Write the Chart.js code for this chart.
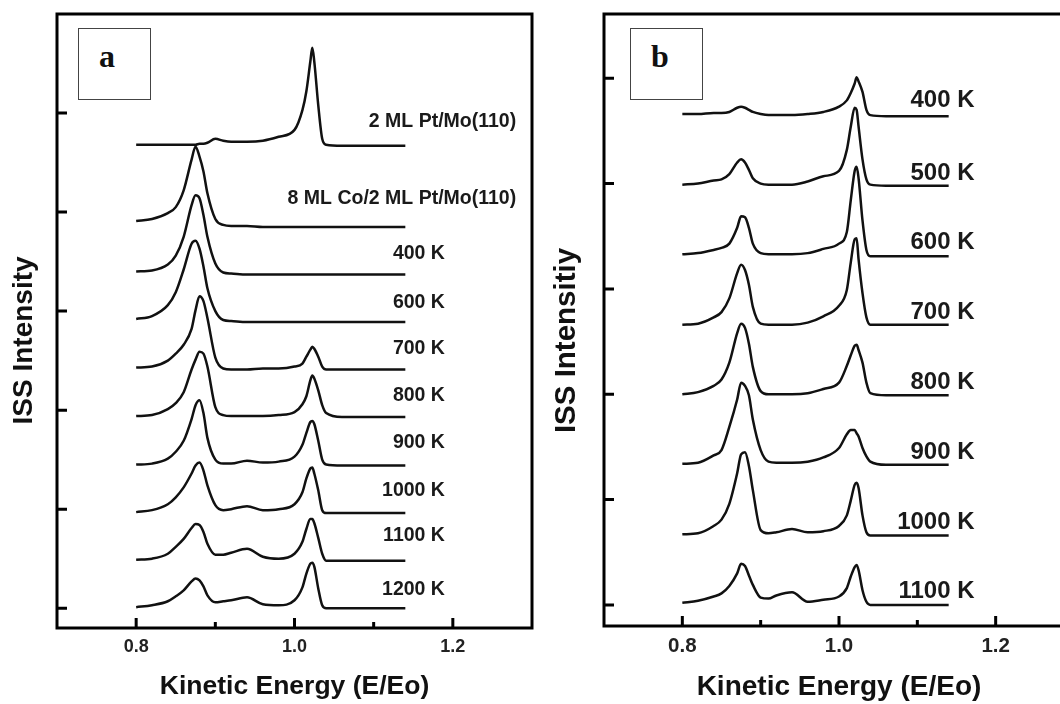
<!DOCTYPE html>
<html>
<head>
<meta charset="utf-8">
<title>ISS spectra</title>
<script src="https://cdn.jsdelivr.net/npm/chart.js@4.4.1/dist/chart.umd.min.js"></script>
<style>
  html, body { margin: 0; padding: 0; background: #fff; overflow: hidden; }
  #wrap { position: relative; width: 1060px; height: 704px; overflow: hidden; }
  canvas { position: absolute; top: 0; }
  #chartA { left: 0; }
  #chartB { left: 540px; }
  .tag { position: absolute; top: 28px; width: 73px; height: 72px; border: 1.5px solid #444;
         box-sizing: border-box; background: #fff; }
  .tag span { position: absolute; left: 20px; top: 9px; line-height: 32px; color: #111;
              font: bold 32px "Liberation Serif", "DejaVu Serif", serif; }
</style>
</head>
<body>
<div id="wrap">
  <canvas id="chartA" width="540" height="704"></canvas>
  <canvas id="chartB" width="540" height="704"></canvas>
  <div class="tag" style="left:78px"><span>a</span></div>
  <div class="tag" style="left:630px"><span>b</span></div>
</div>
<script>
// energie (E/Eo), grille commune a toutes les courbes
var energy = [0.80, 0.82, 0.84, 0.85, 0.86, 0.87, 0.875, 0.88, 0.885, 0.89, 0.90, 0.91, 0.92, 0.94,
              0.96, 0.98, 1.00, 1.01, 1.015, 1.02, 1.0225, 1.025, 1.03, 1.035, 1.04, 1.06, 1.14];

// panneau a : intensites au-dessus de la ligne de base de chaque spectre
var a_PtMo  = [0.01,0.01,0.01,0.01,0.01,0.01,0.01,0.02,0.02,0.03,0.07,0.05,0.04,0.04,0.05,0.09,0.16,0.36,0.55,0.85,0.99,0.85,0.41,0.07,0.01,0,0];
var a_CoPt  = [0.06,0.08,0.14,0.20,0.37,0.68,0.81,0.71,0.56,0.34,0.08,0.02,0.01,0.01,0,0,0,0,0,0,0,0,0,0,0,0,0];
var a_400K  = [0.03,0.04,0.10,0.19,0.38,0.70,0.80,0.77,0.60,0.38,0.11,0.02,0.01,0,0,0,0,0,0,0,0,0,0,0,0,0,0];
var a_600K  = [0.03,0.06,0.17,0.30,0.53,0.79,0.82,0.74,0.56,0.34,0.11,0.02,0.01,0,0,0,0,0,0,0,0,0,0,0,0,0,0];
var a_700K  = [0.02,0.03,0.09,0.16,0.25,0.41,0.60,0.74,0.69,0.52,0.12,0.01,0,0,0.01,0.01,0.03,0.06,0.13,0.20,0.23,0.21,0.13,0.03,0,0,0];
var a_800K  = [0.01,0.02,0.08,0.14,0.25,0.48,0.58,0.66,0.64,0.51,0.10,0.02,0.01,0.01,0.01,0.02,0.05,0.13,0.21,0.37,0.42,0.39,0.27,0.12,0.04,0,0];
var a_900K  = [0.01,0.02,0.07,0.14,0.25,0.47,0.61,0.66,0.53,0.28,0.06,0.02,0.02,0.05,0.03,0.04,0.09,0.21,0.33,0.44,0.45,0.42,0.25,0.06,0.01,0,0];
var a_1000K = [0.01,0.03,0.09,0.16,0.26,0.40,0.48,0.51,0.43,0.28,0.08,0.03,0.04,0.07,0.03,0.04,0.09,0.21,0.35,0.45,0.46,0.40,0.23,0.03,0,0,0];
var a_1100K = [0.01,0.02,0.07,0.14,0.22,0.33,0.37,0.36,0.29,0.17,0.06,0.06,0.08,0.12,0.04,0.02,0.07,0.19,0.32,0.42,0.42,0.38,0.23,0.07,0,0,0];
var a_1200K = [0.01,0.03,0.07,0.12,0.18,0.27,0.30,0.28,0.22,0.13,0.06,0.07,0.08,0.11,0.04,0.03,0.08,0.21,0.35,0.45,0.46,0.42,0.20,0.03,0,0,0];
var offsetsA = [4.67, 3.85, 3.37, 2.89, 2.41, 1.93, 1.44, 0.96, 0.48, 0];
var namesA   = ['2 ML Pt/Mo(110)', '8 ML Co/2 ML Pt/Mo(110)', '400 K', '600 K', '700 K',
                '800 K', '900 K', '1000 K', '1100 K', '1200 K'];
var labelXA  = [1.28, 1.28, 1.19, 1.19, 1.19, 1.19, 1.19, 1.19, 1.19, 1.19];
var labelYA  = [4.91, 4.14, 3.58, 3.09, 2.62, 2.15, 1.67, 1.19, 0.73, 0.19];

// panneau b
var b_400K  = [0.02,0.02,0.03,0.03,0.04,0.08,0.09,0.08,0.06,0.04,0.02,0.01,0.01,0.01,0.02,0.04,0.09,0.15,0.22,0.31,0.37,0.33,0.23,0.06,0.01,0,0];
var b_500K  = [0.01,0.02,0.05,0.06,0.11,0.22,0.25,0.22,0.15,0.07,0.02,0.01,0.01,0.01,0.04,0.09,0.14,0.34,0.56,0.74,0.72,0.56,0.25,0.06,0.01,0,0];
var b_600K  = [0.02,0.03,0.06,0.08,0.12,0.27,0.38,0.37,0.27,0.12,0.03,0.02,0.02,0.02,0.03,0.07,0.12,0.23,0.53,0.81,0.85,0.74,0.34,0.06,0,0,0];
var b_700K  = [0,0.01,0.07,0.12,0.25,0.49,0.57,0.52,0.38,0.17,0.01,0,0,0,0.02,0.08,0.18,0.33,0.59,0.81,0.82,0.62,0.30,0.07,0,0,0];
var b_800K  = [0.01,0.03,0.09,0.15,0.31,0.59,0.68,0.64,0.49,0.27,0.04,0.01,0.01,0.01,0.02,0.06,0.12,0.28,0.38,0.47,0.48,0.43,0.31,0.12,0.02,0,0];
var b_900K  = [0.01,0.02,0.09,0.14,0.36,0.62,0.78,0.75,0.66,0.43,0.14,0.03,0.02,0.02,0.03,0.07,0.16,0.29,0.33,0.33,0.30,0.27,0.16,0.08,0.03,0,0];
var b_1000K = [0.01,0.02,0.09,0.15,0.30,0.59,0.77,0.79,0.66,0.43,0.05,0.02,0.03,0.06,0.03,0.04,0.09,0.19,0.33,0.48,0.50,0.45,0.19,0.03,0,0,0];
var b_1100K = [0.02,0.04,0.08,0.11,0.18,0.30,0.39,0.37,0.28,0.19,0.07,0.06,0.09,0.12,0.03,0.05,0.08,0.16,0.27,0.36,0.38,0.33,0.14,0.03,0,0,0];
var offsetsB = [4.64, 3.98, 3.31, 2.66, 1.99, 1.33, 0.66, 0];
var namesB   = ['400 K', '500 K', '600 K', '700 K', '800 K', '900 K', '1000 K', '1100 K'];
var labelXB  = [1.173, 1.173, 1.173, 1.173, 1.173, 1.173, 1.173, 1.173];
var labelYB  = [4.79, 4.10, 3.44, 2.78, 2.11, 1.45, 0.78, 0.13];

// graduations
var xMajor = [0.8, 1.0, 1.2];
var xMinor = [0.9, 1.1];
var yTicks = [0, 1, 2, 3, 4, 5];

Chart.defaults.font.family = '"Liberation Sans", Arial, sans-serif';

function buildSets(list, offsets) {
  return list.map(function (spec, i) {
    return {
      data: energy.map(function (x, k) { return { x: x, y: offsets[i] + spec[k] }; }),
      borderColor: '#111',
      borderWidth: 2.5,
      pointRadius: 0,
      fill: false,
      cubicInterpolationMode: 'monotone'
    };
  });
}

// cadre + graduations vers l'interieur
function makeFrame() {
  return {
    id: 'frame',
    afterDatasetsDraw: function (chart) {
      var ctx = chart.ctx, a = chart.chartArea;
      var xs = chart.scales.x, ys = chart.scales.y;
      ctx.save();
      ctx.strokeStyle = '#000';
      ctx.lineWidth = 3;
      ctx.strokeRect(a.left, a.top, a.right - a.left, a.bottom - a.top);
      ctx.beginPath();
      xMajor.forEach(function (v) {
        var p = xs.getPixelForValue(v);
        ctx.moveTo(p, a.bottom); ctx.lineTo(p, a.bottom - 10);
      });
      xMinor.forEach(function (v) {
        var p = xs.getPixelForValue(v);
        ctx.moveTo(p, a.bottom); ctx.lineTo(p, a.bottom - 6);
      });
      yTicks.forEach(function (v) {
        var p = ys.getPixelForValue(v);
        ctx.moveTo(a.left, p); ctx.lineTo(a.left + 10, p);
      });
      ctx.stroke();
      ctx.restore();
    }
  };
}

function makeLabels(names, xs, ys, size) {
  return {
    id: 'curveLabels',
    afterDatasetsDraw: function (chart) {
      var ctx = chart.ctx;
      ctx.save();
      ctx.font = 'bold ' + size + 'px "Liberation Sans", Arial, sans-serif';
      ctx.fillStyle = '#1a1a1a';
      ctx.textAlign = 'right';
      ctx.textBaseline = 'middle';
      names.forEach(function (t, i) {
        ctx.fillText(t, chart.scales.x.getPixelForValue(xs[i]), chart.scales.y.getPixelForValue(ys[i]));
      });
      ctx.restore();
    }
  };
}

function makeChart(id, cfg) {
  return new Chart(document.getElementById(id), {
    type: 'line',
    data: { datasets: buildSets(cfg.spectra, cfg.offsets) },
    options: {
      responsive: false,
      animation: false,
      devicePixelRatio: 1,
      layout: { padding: { top: 14, right: cfg.padRight, bottom: 0, left: 0 } },
      plugins: { legend: { display: false }, tooltip: { enabled: false } },
      scales: {
        x: {
          type: 'linear', min: 0.7, max: 1.3,
          grid: { display: false, drawTicks: false },
          border: { display: false },
          afterBuildTicks: function (s) { s.ticks = xMajor.map(function (v) { return { value: v }; }); },
          afterFit: function (s) { s.height = cfg.xHeight; },
          ticks: {
            padding: cfg.tickPad, color: '#222', maxRotation: 0, autoSkip: false,
            font: { size: cfg.tickSize, weight: 'bold' },
            callback: function (v) { return v.toFixed(1); }
          },
          title: {
            display: true, text: 'Kinetic Energy (E/Eo)', color: '#111',
            font: { size: cfg.xTitleSize, weight: 'bold' },
            padding: { top: 0, bottom: cfg.xTitlePad }
          }
        },
        y: {
          type: 'linear', min: -0.2, max: cfg.yMax,
          grid: { display: false, drawTicks: false },
          border: { display: false },
          ticks: { display: false },
          afterFit: function (s) { s.width = cfg.yWidth; },
          title: {
            display: true, text: cfg.yTitle, color: '#111',
            font: { size: cfg.yTitleSize, weight: 'bold' },
            padding: { top: cfg.yTitlePad, bottom: 0 }
          }
        }
      }
    },
    plugins: [makeFrame(), makeLabels(cfg.names, cfg.labelX, cfg.labelY, cfg.labelSize)]
  });
}

makeChart('chartA', {
  spectra: [a_PtMo, a_CoPt, a_400K, a_600K, a_700K, a_800K, a_900K, a_1000K, a_1100K, a_1200K],
  offsets: offsetsA, names: namesA, labelX: labelXA, labelY: labelYA, labelSize: 19.5,
  yMax: 6.0, padRight: 8, yWidth: 57, xHeight: 76,
  tickSize: 18, tickPad: 8.5, xTitleSize: 26.5, yTitleSize: 28, xTitlePad: 1, yTitlePad: 7,
  yTitle: 'ISS Intensity\u00a0\u00a0\u00a0\u00a0\u00a0'
});

makeChart('chartB', {
  spectra: [b_400K, b_500K, b_600K, b_700K, b_800K, b_900K, b_1000K, b_1100K],
  offsets: offsetsB, names: namesB, labelX: labelXB, labelY: labelYB, labelSize: 24,
  yMax: 5.61, padRight: 6, yWidth: 64, xHeight: 78,
  tickSize: 20.5, tickPad: 8, xTitleSize: 28, yTitleSize: 29.5, xTitlePad: 0, yTitlePad: 9,
  yTitle: 'ISS Intensitiy\u00a0\u00a0\u00a0\u00a0\u00a0'
});
</script>
</body>
</html>
